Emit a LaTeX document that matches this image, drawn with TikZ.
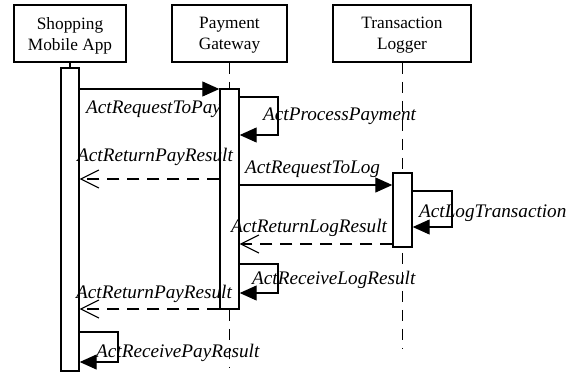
\documentclass[tikz,border=0pt]{standalone}
\usepackage{fontspec}
\setmainfont{Liberation Serif}
\usetikzlibrary{arrows.meta}
\begin{document}
\begin{tikzpicture}[x=1pt,y=-1pt,
 objbox/.style={draw,line width=1.5pt,minimum height=57pt,align=center,font=\fontsize{17.3}{21}\selectfont,inner sep=0pt,text depth=0pt},
 actbar/.style={draw,fill=white,line width=1.4pt,inner sep=0pt},
 life/.style={line width=1pt,dash pattern=on 11pt off 8pt},
 callmsg/.style={line width=1.1pt,-{Triangle[length=17pt,width=15pt]}},
 retmsg/.style={line width=1.1pt,dash pattern=on 12pt off 8pt,-{Straight Barb[length=18pt,width=18pt]}},
 lbl/.style={font=\fontsize{19.2}{22}\selectfont\itshape,inner sep=0pt,anchor=base west}]
\useasboundingbox (0,0) rectangle (583,373);
% objects
\node[objbox,minimum width=112pt] (app) at (70,33.5) {Shopping\\Mobile App};
\node[objbox,minimum width=115pt] (gw) at (229.5,33.5) {Payment\\Gateway};
\node[objbox,minimum width=138pt] (lg) at (402,33.5) {Transaction\\Logger};
% lifeline ends
\coordinate (gwend) at (229.5,367);
\coordinate (lgend) at (402,348);
% lifelines
\draw[life] (gw.south) -- (gwend);
\draw[life] (lg.south) -- (lgend);
% activation bars
\node[actbar,minimum width=18pt,minimum height=303pt] (bar1) at (70,219.5) {};
\node[actbar,minimum width=19pt,minimum height=220pt] (bar2) at (229.5,199) {};
\node[actbar,minimum width=19pt,minimum height=74pt] (bar3) at (402.5,210) {};
\draw[line width=1.1pt] (app.south) -- (bar1.north);
% messages
\draw[callmsg] (bar1.east |- 0,89) -- (bar2.west |- 0,89);
\draw[callmsg] (bar2.east |- 0,97) -| (278,135) -- (bar2.east |- 0,135);
\draw[retmsg] (bar2.west |- 0,179) -- (bar1.east |- 0,179);
\draw[callmsg] (bar2.east |- 0,185) -- (bar3.west |- 0,185);
\draw[callmsg] (bar3.east |- 0,191) -| (452,227) -- (bar3.east |- 0,227);
\draw[retmsg] (bar3.west |- 0,244) -- (bar2.east |- 0,244);
\draw[callmsg] (bar2.east |- 0,264) -| (278,293) -- (bar2.east |- 0,293);
\draw[retmsg] (bar2.west |- 0,309) -- (bar1.east |- 0,309);
\draw[callmsg] (bar1.east |- 0,332) -| (118,362) -- (bar1.east |- 0,362);
% labels
\node[lbl] (l1) at (86,113) {ActRequestToPay};
\node[lbl] (l2) at (263,120) {ActProcessPayment};
\node[lbl] (l3) at (77,161) {ActReturnPayResult};
\node[lbl] (l4) at (245,173) {ActRequestToLog};
\node[lbl] (l5) at (419,217) {ActLogTransaction};
\node[lbl] (l6) at (231,232) {ActReturnLogResult};
\node[lbl] (l7) at (252,284) {ActReceiveLogResult};
\node[lbl] (l8) at (76,298) {ActReturnPayResult};
\node[lbl] (l9) at (96,357) {ActReceivePayResult};
\end{tikzpicture}
\end{document}
